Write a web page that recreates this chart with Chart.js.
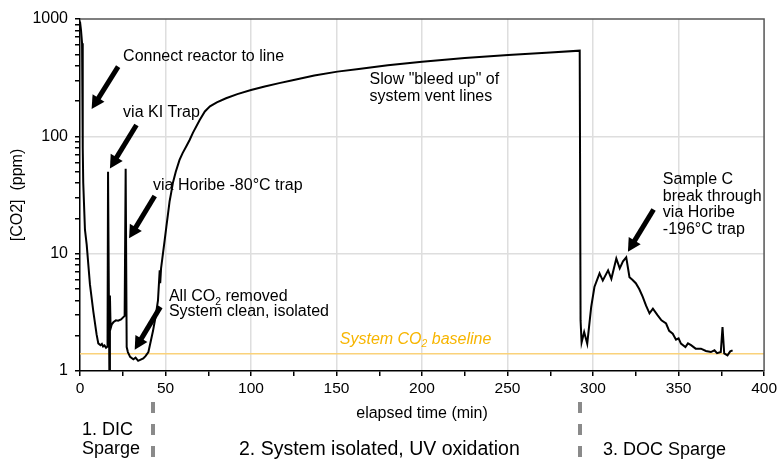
<!DOCTYPE html>
<html>
<head>
<meta charset="utf-8">
<script src="https://cdn.jsdelivr.net/npm/chart.js@4/dist/chart.umd.min.js"></script>
<style>
  body { margin: 0; background: #fff; }
  canvas { display: block; }
</style>
</head>
<body>
<canvas id="myChart" width="780" height="466"></canvas>
<script>
// values
const timeMin = [0, 0.6, 1.2, 1.5, 1.7, 1.9, 2.9, 3.9, 5.8, 7.8, 9.7, 10.7, 12, 12.8, 13.5, 14.3, 15.2, 16.1, 16.4, 17.2,
  17.5, 17.9, 18.6, 19.5, 21, 22.3, 24, 26.1, 26.7, 27.3, 28, 29.3, 31.2, 32.5, 34, 35.5, 37, 38.3, 40, 42.7,
  44, 45.6, 46.6, 46.9, 47.4, 48.5, 49.5, 50.5, 51.5, 52.4, 53.3, 54.3, 56, 58.2, 60, 62.1, 64.1, 66, 70, 73,
  76, 80, 85.4, 92, 100, 108, 116.5, 124.3, 137, 150.5, 163, 180, 200, 225, 250.4, 275, 292.2, 292.7, 293.3, 294.8,
  296.6, 298.9, 300.8, 303.8, 305.7, 308.8, 310.7, 313.6, 315.6, 317.5, 319.4, 321.3, 323, 325, 327, 329, 331, 333, 335, 337.8,
  340, 342.7, 344.5, 346.6, 348.5, 350, 351.4, 354, 355.5, 357.3, 360, 363.1, 366, 368.9, 371, 372.5, 374.7, 375.7, 376.7, 378.6,
  380.2, 381.6];
const co2ppm = [950, 800, 620, 250, 80, 40, 16, 12, 5.5, 3.2, 2.05, 1.72, 1.66, 1.7, 1.62, 1.65, 1.58, 1.62, 50, 0.8,
  4.4, 2.3, 2.5, 2.6, 2.7, 2.68, 2.75, 2.95, 53, 1.6, 1.45, 1.32, 1.26, 1.3, 1.22, 1.25, 1.28, 1.34, 1.45, 2.2,
  2.8, 4.0, 7.2, 5.6, 7.5, 10, 13, 17, 22, 28, 33, 40, 50, 63, 72, 82, 93, 107, 138, 163,
  180, 195, 211, 229, 248, 266, 284, 300, 330, 356, 375, 403, 433, 465, 494, 518, 537, 2.7, 1.75, 2.15,
  1.71, 3.5, 5.2, 6.8, 5.9, 7.2, 6.1, 9.1, 7.5, 8.6, 9.3, 6.3, 6.0, 5.6, 5.0, 4.3, 3.6, 3.1, 3.4, 2.98,
  2.7, 2.54, 2.2, 2.08, 1.85, 1.9, 1.71, 1.6, 1.72, 1.66, 1.55, 1.55, 1.48, 1.45, 1.5, 1.42, 1.45, 2.37, 1.41, 1.36,
  1.47, 1.5];
const baselineTime = [0, 400];
const baselinePpm = [1.4, 1.4];
const yTickLabels = [1, 10, 100, 1000];

// callouts, placed in data units (min, ppm)
const notes = [
  { lines: ['Connect reactor to line'], t: 25.2, ppm: 478 },
  { lines: ['via KI Trap'], t: 25.2, ppm: 159 },
  { lines: ['via Horibe -80°C trap'], t: 42.7, ppm: 37.9 },
  { lines: ['All CO_2 removed', 'System clean, isolated'], t: 52.0, ppm: 4.28, gap: 15 },
  { lines: ['Slow "bleed up" of', 'system vent lines'], t: 169.3, ppm: 302, gap: 16.7 },
  { lines: ['Sample C', 'break through', 'via Horibe', '-196°C trap'], t: 340.8, ppm: 43, gap: 16.8 }
];
const arrows = [
  { from: [22.3, 393], to: [6.8, 171] },
  { from: [33.0, 125], to: [17.5, 53.3] },
  { from: [43.7, 31], to: [28.7, 13.5] },
  { from: [47.0, 3.52], to: [32.0, 1.52] },
  { from: [335.4, 23.8], to: [320.4, 10.4] }
];
const phaseBreaks = [42.7, 292.6];
const phaseLabels = [
  { lines: ['1. DIC', 'Sparge'], x: 82, y: 430, size: 18 },
  { lines: ['2. System isolated, UV oxidation'], x: 239, y: 450, size: 19.5 },
  { lines: ['3. DOC Sparge'], x: 603, y: 450, size: 18 }
];

const FONT = '"Liberation Sans", Arial, sans-serif';
Chart.defaults.font.family = FONT;
Chart.defaults.color = '#000';

// text with "_2" style subscripts
function richText(c, text, x, y, size, style) {
  const parts = text.split('_');
  let cx = x;
  parts.forEach((p, i) => {
    if (i > 0) {
      c.font = style + (size * 0.65) + 'px ' + FONT;
      c.fillText(p[0], cx, y + size * 0.3);
      cx += c.measureText(p[0]).width;
      p = p.slice(1);
    }
    c.font = style + size + 'px ' + FONT;
    c.fillText(p, cx, y);
    cx += c.measureText(p).width;
  });
}

function drawArrow(c, x1, y1, x2, y2) {
  const ang = Math.atan2(y2 - y1, x2 - x1);
  const head = 13, hw = 7;
  const bx = x2 - head * Math.cos(ang), by = y2 - head * Math.sin(ang);
  c.lineWidth = 5;
  c.lineCap = 'butt';
  c.beginPath();
  c.moveTo(x1, y1);
  c.lineTo(bx + Math.cos(ang), by + Math.sin(ang));
  c.stroke();
  c.beginPath();
  c.moveTo(x2, y2);
  c.lineTo(bx + hw * Math.sin(ang), by - hw * Math.cos(ang));
  c.lineTo(bx - hw * Math.sin(ang), by + hw * Math.cos(ang));
  c.closePath();
  c.fill();
}

const extras = {
  id: 'extras',
  afterDraw(chart) {
    const c = chart.ctx;
    const { x, y } = chart.scales;
    const area = chart.chartArea;
    c.save();
    // frame top / right
    c.strokeStyle = '#555';
    c.lineWidth = 1.5;
    c.beginPath();
    c.moveTo(area.left, area.top);
    c.lineTo(area.right, area.top);
    c.lineTo(area.right, area.bottom);
    c.stroke();

    c.fillStyle = '#000';
    c.strokeStyle = '#000';
    arrows.forEach(a => {
      drawArrow(c, x.getPixelForValue(a.from[0]), y.getPixelForValue(a.from[1]),
        x.getPixelForValue(a.to[0]), y.getPixelForValue(a.to[1]));
    });

    c.textBaseline = 'middle';
    c.textAlign = 'left';
    notes.forEach(n => {
      const px = x.getPixelForValue(n.t), py = y.getPixelForValue(n.ppm);
      n.lines.forEach((l, i) => richText(c, l, px, py + i * (n.gap || 0), 16, ''));
    });

    // baseline label
    c.fillStyle = '#F7B500';
    richText(c, 'System CO_2 baseline', x.getPixelForValue(151.9), y.getPixelForValue(1.865), 16, 'italic ');

    // phase separators below the axis
    c.strokeStyle = '#8a8a8a';
    c.lineWidth = 4;
    c.setLineDash([11, 11]);
    phaseBreaks.forEach(t => {
      const px = Math.round(x.getPixelForValue(t));
      c.beginPath();
      c.moveTo(px, 402);
      c.lineTo(px, 466);
      c.stroke();
    });
    c.setLineDash([]);

    c.fillStyle = '#000';
    phaseLabels.forEach(p => {
      p.lines.forEach((l, i) => richText(c, l, p.x, p.y + i * 19.5, p.size, ''));
    });
    c.restore();
  }
};

// keep only the 1..9 x 10^n log ticks (drop the 15 / 150 ones)
function keepLogTicks(s) {
  s.ticks = s.ticks.filter(t => {
    const m = t.value / Math.pow(10, Math.floor(Math.log10(t.value) + 1e-9));
    return Math.abs(m - Math.round(m)) < 1e-6;
  });
}

const ctx = document.getElementById('myChart');
new Chart(ctx, {
  type: 'line',
  data: {
    datasets: [{
      label: 'CO2',
      data: timeMin.map((t, i) => ({ x: t, y: co2ppm[i] })),
      borderColor: '#000',
      borderWidth: 2,
      pointRadius: 0,
      tension: 0,
      fill: false,
      order: 0
    }, {
      label: 'baseline',
      data: baselineTime.map((t, i) => ({ x: t, y: baselinePpm[i] })),
      borderColor: '#FAD27A',
      borderWidth: 1.5,
      pointRadius: 0,
      fill: false,
      order: 1
    }]
  },
  options: {
    responsive: false,
    animation: false,
    devicePixelRatio: 1,
    layout: { padding: { top: 19, right: 13, left: 0, bottom: 0 } },
    plugins: { legend: { display: false }, tooltip: { enabled: false } },
    scales: {
      x: {
        type: 'linear',
        min: 0,
        max: 400,
        afterFit: s => { s.height = 95; },
        ticks: {
          stepSize: 25,
          autoSkip: false,
          maxRotation: 0,
          padding: 3,
          font: { size: 15.5 },
          callback: v => (v % 50 === 0 ? v : '')
        },
        grid: {
          color: c => (c.tick && c.tick.value % 50 === 0 && c.tick.value > 0 && c.tick.value < 400 ? '#dedede' : 'rgba(0,0,0,0)'),
          lineWidth: 1.5,
          tickColor: '#000',
          tickLength: 5
        },
        border: { color: '#000', width: 1.5 },
        title: { display: true, text: 'elapsed time (min)', font: { size: 16 }, padding: { top: 0, bottom: 43 } }
      },
      y: {
        type: 'logarithmic',
        min: 1,
        max: 1000,
        afterFit: s => { s.width = 80; },
        afterBuildTicks: keepLogTicks,
        ticks: {
          autoSkip: false,
          padding: 7,
          font: { size: 16 },
          callback: v => (yTickLabels.includes(v) ? String(v) : '')
        },
        grid: {
          color: c => (c.tick && (c.tick.value === 10 || c.tick.value === 100) ? '#dedede' : 'rgba(0,0,0,0)'),
          lineWidth: 1.5,
          tickColor: '#000',
          tickLength: 5
        },
        border: { color: '#000', width: 1.5 },
        title: { display: true, text: '[CO2]  (ppm)', font: { size: 16 }, padding: { top: 8, bottom: 0 } }
      }
    }
  },
  plugins: [extras]
});
</script>
</body>
</html>
